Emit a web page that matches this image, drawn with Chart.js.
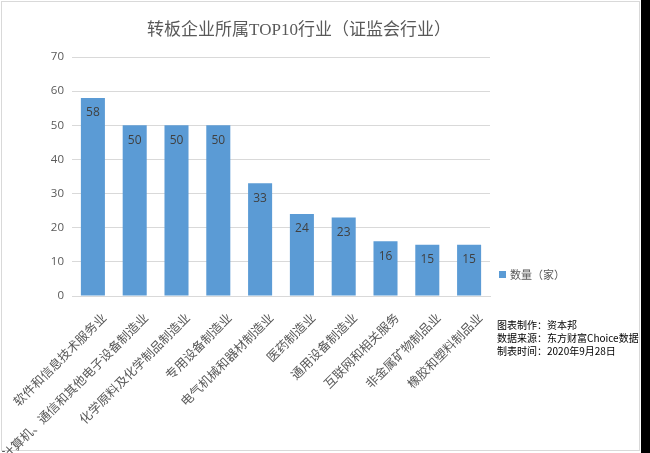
<!DOCTYPE html>
<html>
<head>
<meta charset="utf-8">
<script src="https://cdn.jsdelivr.net/npm/chart.js@4/dist/chart.umd.min.js"></script>
<style>
  html, body { margin: 0; padding: 0; background: #000; }
  #c { display: block; }
</style>
</head>
<body>
<canvas id="c" width="650" height="453"></canvas>
<script>
const categories = [
  "软件和信息技术服务业",
  "计算机、通信和其他电子设备制造业",
  "化学原料及化学制品制造业",
  "专用设备制造业",
  "电气机械和器材制造业",
  "医药制造业",
  "通用设备制造业",
  "互联网和相关服务",
  "非金属矿物制品业",
  "橡胶和塑料制品业"
];
const counts = [58, 50, 50, 50, 33, 24, 23, 16, 15, 15];
const seriesName = "数量（家）";
const titleText = "转板企业所属TOP10行业（证监会行业）";
const sourceLines = ["图表制作：资本邦", "数据来源：东方财富Choice数据", "制表时间：2020年9月28日"];
const yTicks = [0, 10, 20, 30, 40, 50, 60, 70];

const BAR = "#5B9BD5";
const CJK = '"Noto Sans CJK SC", sans-serif';
const SERIF = '"Liberation Serif", "Noto Sans CJK SC", serif';

const decor = {
  id: "decor",
  beforeDraw(chart) {
    const ctx = chart.ctx;
    ctx.save();
    ctx.fillStyle = "#000";
    ctx.fillRect(0, 0, 650, 453);
    ctx.fillStyle = "#fff";
    ctx.fillRect(0, 0, 641, 453);
    ctx.strokeStyle = "#d9d9d9";
    ctx.lineWidth = 1;
    ctx.strokeRect(1.5, 1.5, 638, 449);
    ctx.restore();
  },
  afterDatasetsDraw(chart) {
    const ctx = chart.ctx;
    const meta = chart.getDatasetMeta(0);
    ctx.save();
    ctx.fillStyle = "#404040";
    ctx.font = '12px "Open Sans", sans-serif';
    ctx.textAlign = "center";
    ctx.textBaseline = "middle";
    meta.data.forEach((bar, i) => {
      ctx.fillText(String(counts[i]), bar.x, bar.y + 15);
    });
    ctx.restore();
  },
  afterDraw(chart) {
    const ctx = chart.ctx;
    ctx.save();
    // title
    ctx.fillStyle = "#595959";
    ctx.font = "17px " + SERIF;
    ctx.textAlign = "center";
    ctx.textBaseline = "middle";
    ctx.fillText(titleText, 299, 31);
    // legend
    ctx.fillStyle = BAR;
    ctx.fillRect(499, 271, 7, 7);
    ctx.fillStyle = "#595959";
    ctx.font = "11px " + CJK;
    ctx.textAlign = "left";
    ctx.fillText(seriesName, 510, 275);
    // source
    ctx.fillStyle = "#000";
    ctx.font = "10px " + CJK;
    sourceLines.forEach((t, i) => ctx.fillText(t, 497, 325 + i * 13));
    ctx.restore();
  }
};

new Chart(document.getElementById("c"), {
  type: "bar",
  data: {
    labels: categories,
    datasets: [{
      label: seriesName,
      data: counts,
      backgroundColor: BAR,
      borderWidth: 0,
      categoryPercentage: 1,
      barPercentage: 0.575
    }]
  },
  options: {
    responsive: false,
    animation: false,
    devicePixelRatio: 1,
    layout: { padding: { left: 0, top: 57, right: 160, bottom: 0 } },
    plugins: {
      legend: { display: false },
      title: { display: false },
      tooltip: { enabled: false }
    },
    scales: {
      x: {
        grid: { display: false, drawTicks: false },
        border: { color: "#d9d9d9", width: 1 },
        ticks: {
          color: "#595959",
          font: { family: CJK, size: 12.5 },
          minRotation: 45,
          maxRotation: 45,
          autoSkip: false,
          padding: 14,
          labelOffset: 11
        },
        afterFit(scale) {
          scale.height = 157;
          scale.paddingLeft = 0;
          scale.paddingRight = 0;
        }
      },
      y: {
        min: 0,
        max: 70,
        afterBuildTicks(scale) {
          scale.ticks = yTicks.map(v => ({ value: v }));
        },
        grid: { color: "#d9d9d9", drawTicks: false },
        border: { display: false },
        ticks: {
          color: "#595959",
          font: { family: '"Open Sans", sans-serif', size: 11.5 },
          padding: 8
        },
        afterFit(scale) {
          scale.width = 72;
          scale.paddingTop = 0;
          scale.paddingBottom = 0;
        }
      }
    }
  },
  plugins: [decor]
});
</script>
</body>
</html>
